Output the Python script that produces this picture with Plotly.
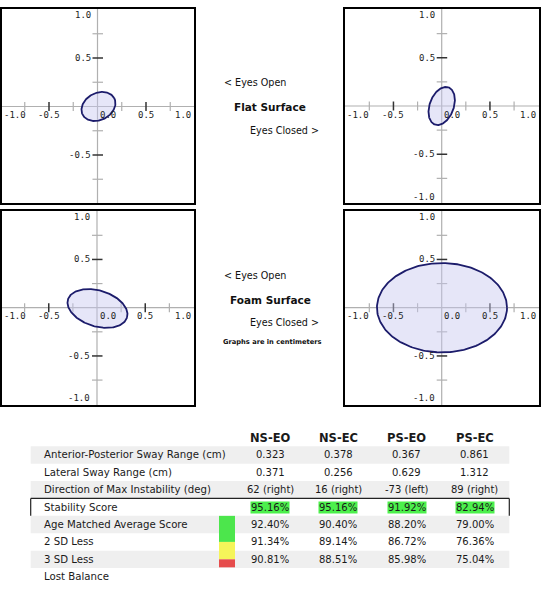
import numpy as np
import plotly.graph_objects as go

# ---------------- data ----------------
conditions = ["NS-EO", "NS-EC", "PS-EO", "PS-EC"]
ap_range = [0.323, 0.378, 0.367, 0.861]
lat_range = [0.371, 0.256, 0.629, 1.312]
max_dir = [62, 16, -73, 89]
stability = [95.16, 95.16, 91.92, 82.94]
age_avg = [92.40, 90.40, 88.20, 79.00]
sd2_less = [91.34, 89.14, 86.72, 76.36]
sd3_less = [90.81, 88.51, 85.98, 75.04]
row_labels = ["Anterior-Posterior Sway Range (cm)", "Lateral Sway Range (cm)",
              "Direction of Max Instability (deg)", "Stability Score",
              "Age Matched Average Score", "2 SD Less", "3 SD Less", "Lost Balance"]

# sway ellipses (cm)
ell_cx = [0.01, 0.0, 0.005, 0.003]
ell_cy = [0.0, 0.0, -0.008, 0.0]
ell_a = [0.184, 0.205, 0.32, 0.674]
ell_b = [0.139, 0.125, 0.186, 0.463]
ell_tilt = [28, 70, -17, 0]

major_ticks = [-0.5, 0.5]
minor_ticks = [-0.75, -0.25, 0.25, 0.75]
x_tick_vals = [-1.0, -0.5, 0.0, 0.5, 1.0]
y_tick_vals = [1.0, 0.5, -0.5, -1.0]

# ---------------- layout helpers ----------------
W, H = 541, 591
def fx(p):
    return p / W
def fy(p):
    return 1 - p / H

# x0, x1, ytop, ybottom, centre x, centre y, px per cm
panels = [
    (2, 194, 9, 203, 97.5, 106.5, 97.0),
    (345, 539, 9, 203, 441.7, 106.0, 96.5),
    (2, 194, 211, 405, 97.0, 307.7, 96.5),
    (345, 539, 211, 405, 441.7, 307.7, 96.5),
]

fig = go.Figure()
layout = {}
shapes = []
annots = []
tick_font = dict(family="DejaVu Sans Mono", size=9, color="#222")

for i, (x0, x1, yt, yb, cx, cy, s) in enumerate(panels):
    n = i + 1
    suf = "" if n == 1 else str(n)
    xr, yr = "x" + suf, "y" + suf
    xrange_ = [(x0 - cx) / s, (x1 - cx) / s]
    yrange_ = [(cy - yb) / s, (cy - yt) / s]
    common = dict(showline=True, mirror=True, linecolor="black", linewidth=1.5,
                  showticklabels=False, ticks="", showgrid=False, zeroline=False,
                  fixedrange=True)
    layout["xaxis" + suf] = dict(domain=[fx(x0), fx(x1)], range=xrange_, anchor=yr, **common)
    layout["yaxis" + suf] = dict(domain=[fy(yb), fy(yt)], range=yrange_, anchor=xr, **common)

    # ellipse
    t = np.linspace(0, 2 * np.pi, 241)
    th = np.radians(ell_tilt[i])
    ex = ell_cx[i] + ell_a[i] * np.cos(t) * np.cos(th) - ell_b[i] * np.sin(t) * np.sin(th)
    ey = ell_cy[i] + ell_a[i] * np.cos(t) * np.sin(th) + ell_b[i] * np.sin(t) * np.cos(th)
    fig.add_trace(go.Scatter(x=ex, y=ey, xaxis=xr, yaxis=yr, mode="lines", fill="toself",
                             fillcolor="rgba(200,200,240,0.45)",
                             line=dict(color="#1c1c6b", width=1.8),
                             hoverinfo="skip", showlegend=False))

    # crosshair axes
    shapes.append(dict(type="line", xref=xr, yref=yr, x0=xrange_[0], x1=xrange_[1], y0=0, y1=0,
                       line=dict(color="#b0b0b0", width=1.2), layer="below"))
    shapes.append(dict(type="line", xref=xr, yref=yr, x0=0, x1=0, y0=yrange_[0], y1=yrange_[1],
                       line=dict(color="#b0b0b0", width=1.2), layer="below"))
    for tv, col, w in [(v, "#333", 1.5) for v in major_ticks] + [(v, "#b0b0b0", 1.2) for v in minor_ticks]:
        shapes.append(dict(type="line", xref=xr, yref=yr, xsizemode="scaled", ysizemode="pixel",
                           yanchor=0, x0=tv, x1=tv, y0=-4.5, y1=4.5,
                           line=dict(color=col, width=w), layer="below"))
        shapes.append(dict(type="line", xref=xr, yref=yr, xsizemode="pixel", ysizemode="scaled",
                           xanchor=0, x0=-5, x1=5.5, y0=tv, y1=tv,
                           line=dict(color=col, width=w), layer="below"))
    # tick labels
    for v, lab in zip(x_tick_vals, ["-1.0", "-0.5", "0.0", "0.5", "1.0"]):
        if v == x_tick_vals[0]:
            xa, xpos, xs = "left", xrange_[0], 0
        elif v == x_tick_vals[-1]:
            xa, xpos, xs = "right", xrange_[1], -1
        elif v == 0:
            xa, xpos, xs = "center", 0, 10.5
        else:
            xa, xpos, xs = "center", v, 0
        annots.append(dict(xref=xr, yref=yr, x=xpos, y=0, text=lab, showarrow=False,
                           xanchor=xa, yanchor="middle", xshift=xs, yshift=-8.5, font=tick_font))
    for v, lab in zip(y_tick_vals, ["1.0", "0.5", "-0.5", "-1.0"]):
        ys = -5.5 if v == 1.0 else (6 if v == -1.0 else 0)
        annots.append(dict(xref=xr, yref=yr, x=0, y=v, text=lab, showarrow=False,
                           xanchor="right", yanchor="middle", xshift=-5, yshift=ys, font=tick_font))

# middle captions
cap = dict(family="DejaVu Sans", size=9.6, color="#111")
capb = dict(family="DejaVu Sans", size=10.5, color="#111")
def cap_ann(text, xp, yp, anchor, font):
    annots.append(dict(xref="paper", yref="paper", x=fx(xp), y=fy(yp), text=text, showarrow=False,
                       xanchor=anchor, yanchor="middle", font=font))
cap_ann("&lt; Eyes Open", 221.5, 82.7, "left", cap)
cap_ann("<b>Flat Surface</b>", 270, 106.7, "center", capb)
cap_ann("Eyes Closed &gt;", 321, 130, "right", cap)
cap_ann("&lt; Eyes Open", 221.5, 275, "left", cap)
cap_ann("<b>Foam Surface</b>", 270.5, 300, "center", capb)
cap_ann("Eyes Closed &gt;", 321, 322.7, "right", cap)
cap_ann("<b>Graphs are in centimeters</b>", 220.5, 341.7, "left",
        dict(family="DejaVu Sans", size=6.7, color="#111"))

# ---------------- table ----------------
row0_px, row_h = 437.6, 17.39
t_top, t_bot = 420, 591
layout["xaxis5"] = dict(domain=[0, 1], range=[0, W], visible=False, anchor="y5", fixedrange=True)
layout["yaxis5"] = dict(domain=[0, fy(t_top)],
                        range=[(t_bot - row0_px) / row_h, (t_top - row0_px) / row_h],
                        visible=False, anchor="x5", fixedrange=True)
band_x0, band_x1 = 30.7, 509.3
col_x = [270 + 68.3 * k for k in range(4)]
label_x = 41.7

for r in [1, 3, 5, 7]:
    shapes.append(dict(type="rect", xref="x5", yref="y5", x0=band_x0, x1=band_x1,
                       y0=r - 0.5, y1=r + 0.5, fillcolor="#efefef", line=dict(width=0),
                       layer="below"))
# stability score frame (top, left, right)
for (a0, b0, a1, b1) in [(band_x0, 3.5, band_x1, 3.5), (band_x0, 3.5, band_x0, 4.5),
                         (band_x1, 3.5, band_x1, 4.5)]:
    shapes.append(dict(type="line", xref="x5", yref="y5", x0=a0, y0=b0, x1=a1, y1=b1,
                       line=dict(color="#222", width=1.2)))
# colour key
for (c0, c1, colr) in [(4.5, 6.0, "#4ce64c"), (6.0, 7.0, "#f5f55a"), (7.0, 7.46, "#e64c4c")]:
    shapes.append(dict(type="rect", xref="x5", yref="y5", x0=219, x1=235, y0=c0, y1=c1,
                       fillcolor=colr, line=dict(width=0)))

lf = dict(family="DejaVu Sans", size=10.2, color="#1a1a1a")
tf = dict(family="DejaVu Sans", size=10, color="#1a1a1a")
hf = dict(family="DejaVu Sans", size=11.5, color="#1a1a1a")
for k, c in enumerate(conditions):
    annots.append(dict(xref="x5", yref="y5", x=col_x[k], y=0, text="<b>" + c + "</b>",
                       showarrow=False, xanchor="center", yanchor="middle", font=hf))
for r, lab in enumerate(row_labels):
    annots.append(dict(xref="x5", yref="y5", x=label_x, y=r + 1, text=lab, showarrow=False,
                       xanchor="left", yanchor="middle", font=lf))

rows_vals = [
    [f"{v:.3f}" for v in ap_range],
    [f"{v:.3f}" for v in lat_range],
    [f"{d} ({'right' if d > 0 else 'left'})" for d in max_dir],
    [f"{v:.2f}%" for v in stability],
    [f"{v:.2f}%" for v in age_avg],
    [f"{v:.2f}%" for v in sd2_less],
    [f"{v:.2f}%" for v in sd3_less],
]
for r, vals in enumerate(rows_vals):
    for k, txt in enumerate(vals):
        a = dict(xref="x5", yref="y5", x=col_x[k], y=r + 1, text=txt, showarrow=False,
                 xanchor="center", yanchor="middle", font=tf)
        if r == 3:
            a.update(bgcolor="#4cf04c", borderpad=0)
        annots.append(a)

fig.update_layout(**layout)
fig.update_layout(width=W, height=H, margin=dict(l=0, r=0, t=0, b=0),
                  paper_bgcolor="white", plot_bgcolor="white", showlegend=False,
                  font=dict(family="DejaVu Sans"), shapes=shapes, annotations=annots)
fig.write_html("out.html")
